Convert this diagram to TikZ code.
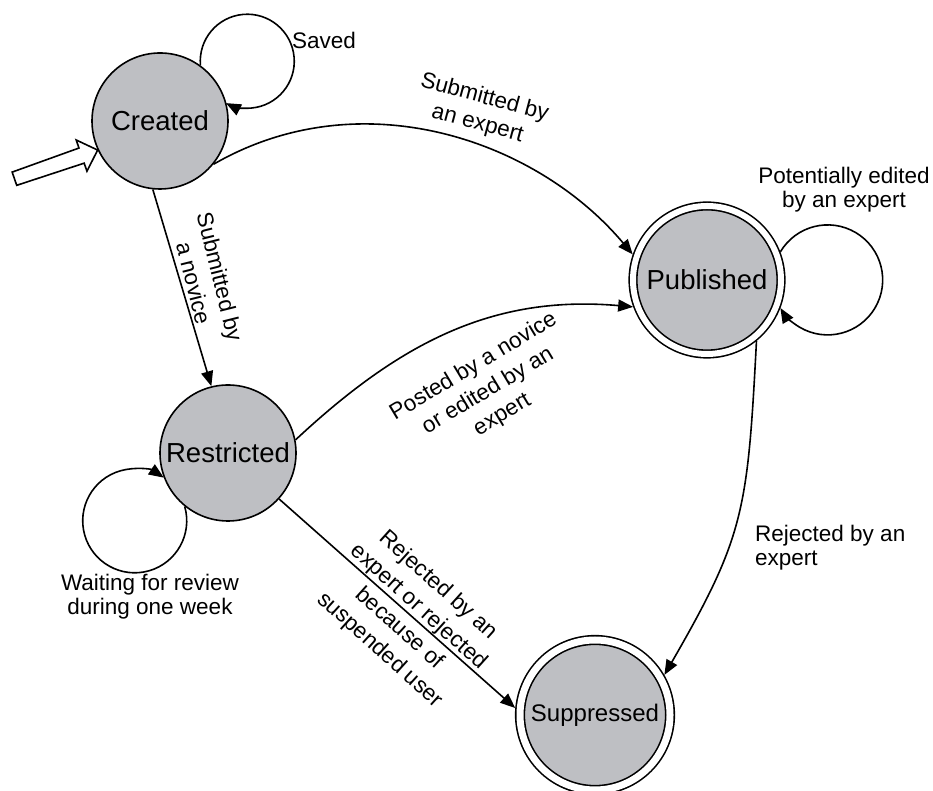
\documentclass[tikz,border=0pt]{standalone}
\usepackage{fontspec}
\setmainfont{Liberation Sans}
\usetikzlibrary{arrows.meta}
\definecolor{statefill}{RGB}{190,191,195}
\begin{document}
\begin{tikzpicture}[x=1pt,y=1pt,
  state/.style={circle, draw, line width=1.6pt, fill=statefill, inner sep=0pt,
                minimum size=136pt, font=\fontsize{27.5}{30}\selectfont},
  final/.style={state, double, double distance=6pt, minimum size=148pt, outer sep=4.6pt},
  trans/.style={line width=1.6pt, -{Triangle[length=15pt,width=12pt]}},
  lbl/.style={font=\fontsize{22.5}{24}\selectfont, align=center, inner sep=0pt}]
\useasboundingbox (0,0) rectangle (933,791);

% states
\node[state] (C) at (160,670) {Created};
\node[state] (R) at (228,338) {Restricted};
\node[final] (P) at (707,511) {Published};
\node[final, minimum size=150pt, double distance=7pt, outer sep=5.1pt,
      font=\fontsize{24}{28}\selectfont] (S) at (595,76) {Suppressed};

% initial-state marker (hollow arrow)
\begin{scope}[shift={(C.205)}, rotate=19]
  \draw[line width=1.6pt, fill=white, line join=miter]
    (0,0) -- (-17,16.5) -- (-17,8) -- (-88,7) -- (-88,-7) -- (-17,-8) -- (-17,-16.5) -- cycle;
\end{scope}

% transitions
\draw[trans] (C.54) arc[start angle=185, end angle=-117, radius=47pt];
\draw[trans] (C.264) -- (R.104);
\draw[trans] (C.-39) .. controls +(30:170) and +(130:150) .. (P.161);
\draw[trans] (R.11) to[out=43, in=175] (P.200);
\draw[trans] (R.-42) -- (S.175);
\draw[trans] (R.231) arc[start angle=16, end angle=-304, radius=52pt];
\draw[trans] (P.21) arc[start angle=149.3, end angle=-149.3, radius=55pt];
\draw[trans] (P.-51) .. controls +(-93:170) and +(60:160) .. (S.30);

% transition labels
\node[lbl, anchor=west] (lsaved) at (292,751) {Saved};
\node[lbl, rotate=-15] (lexpert) at (481,680) {Submitted by\\[3pt]an expert};
\node[lbl, rotate=-76] (lnovice) at (207,511) {Submitted by\\[3pt]a novice};
\node[lbl] (ledit) at (844,601) {Potentially edited\\by an expert};
\node[lbl, rotate=31] (lposted) at (488,400) {Posted by a novice\\[4pt]or edited by an\\[4pt]expert};
\node[lbl, rotate=-42] (lrej) at (409,173) {Rejected by an\\[5pt]expert or rejected\\[5pt]because of\\[5pt]suspended user};
\node[lbl, align=left, anchor=west] (lrejp) at (755,243) {Rejected by an\\expert};
\node[lbl] (lwait) at (150,194) {Waiting for review\\during one week};
\end{tikzpicture}
\end{document}
